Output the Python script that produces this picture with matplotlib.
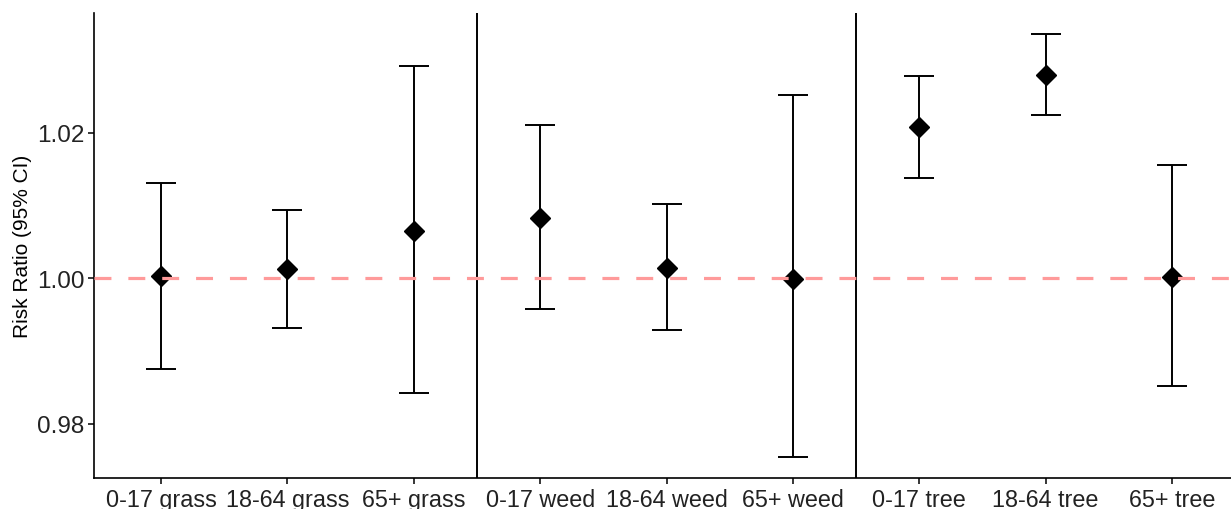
import matplotlib.pyplot as plt
import numpy as np

plt.rcParams['font.family'] = ['Liberation Sans', 'DejaVu Sans']

labels = ['0-17 grass', '18-64 grass', '65+ grass',
          '0-17 weed', '18-64 weed', '65+ weed',
          '0-17 tree', '18-64 tree', '65+ tree']
rr = [1.0003, 1.0012, 1.0065, 1.0083, 1.0014, 0.9999, 1.0208, 1.0279, 1.0001]
upper = [1.0131, 1.0094, 1.0292, 1.0210, 1.0102, 1.0251, 1.0278, 1.0336, 1.0155]
lower = [0.9875, 0.9931, 0.9842, 0.9958, 0.9929, 0.9754, 1.0138, 1.0224, 0.9852]

x = np.arange(1, len(labels) + 1)
rr = np.array(rr)
yerr = [rr - np.array(lower), np.array(upper) - rr]

fig = plt.figure(figsize=(12.31, 5.10), dpi=100)
ax = fig.add_axes([0.0764, 0.0608, 0.9236, 0.9117])

ax.errorbar(x, rr, yerr=yerr, fmt='none', ecolor='black', elinewidth=1.4,
            capsize=11, capthick=1.4, zorder=2)
ax.plot(x, rr, 'D', color='black', markersize=10, zorder=3)
ax.axhline(1.0, color='#ff9a9a', lw=2.3, linestyle=(0, (5.3, 5.3)), zorder=4)
for sep in [3.5, 6.5]:
    ax.axvline(sep, color='black', lw=1.4, zorder=1)

ax.set_xlim(0.47, 9.467)
ax.set_ylim(0.97251, 1.03643)
ax.set_xticks(x)
ax.set_xticklabels(labels)
ax.set_yticks([0.98, 1.00, 1.02])
ax.set_yticklabels(['0.98', '1.00', '1.02'])
ax.set_ylabel('Risk Ratio (95% CI)', fontsize=15, color='black')
ax.yaxis.set_label_coords(-0.0545, 0.5)

for s in ['top', 'right']:
    ax.spines[s].set_visible(False)
for s in ['left', 'bottom']:
    ax.spines[s].set_linewidth(1.2)
ax.tick_params(axis='x', length=4, width=1.1, labelsize=16.8,
               labelcolor='#222222', pad=3)
ax.tick_params(axis='y', length=4, width=1.1, labelsize=17.5,
               labelcolor='#222222', pad=3)

fig.savefig('out.png', dpi=100)
